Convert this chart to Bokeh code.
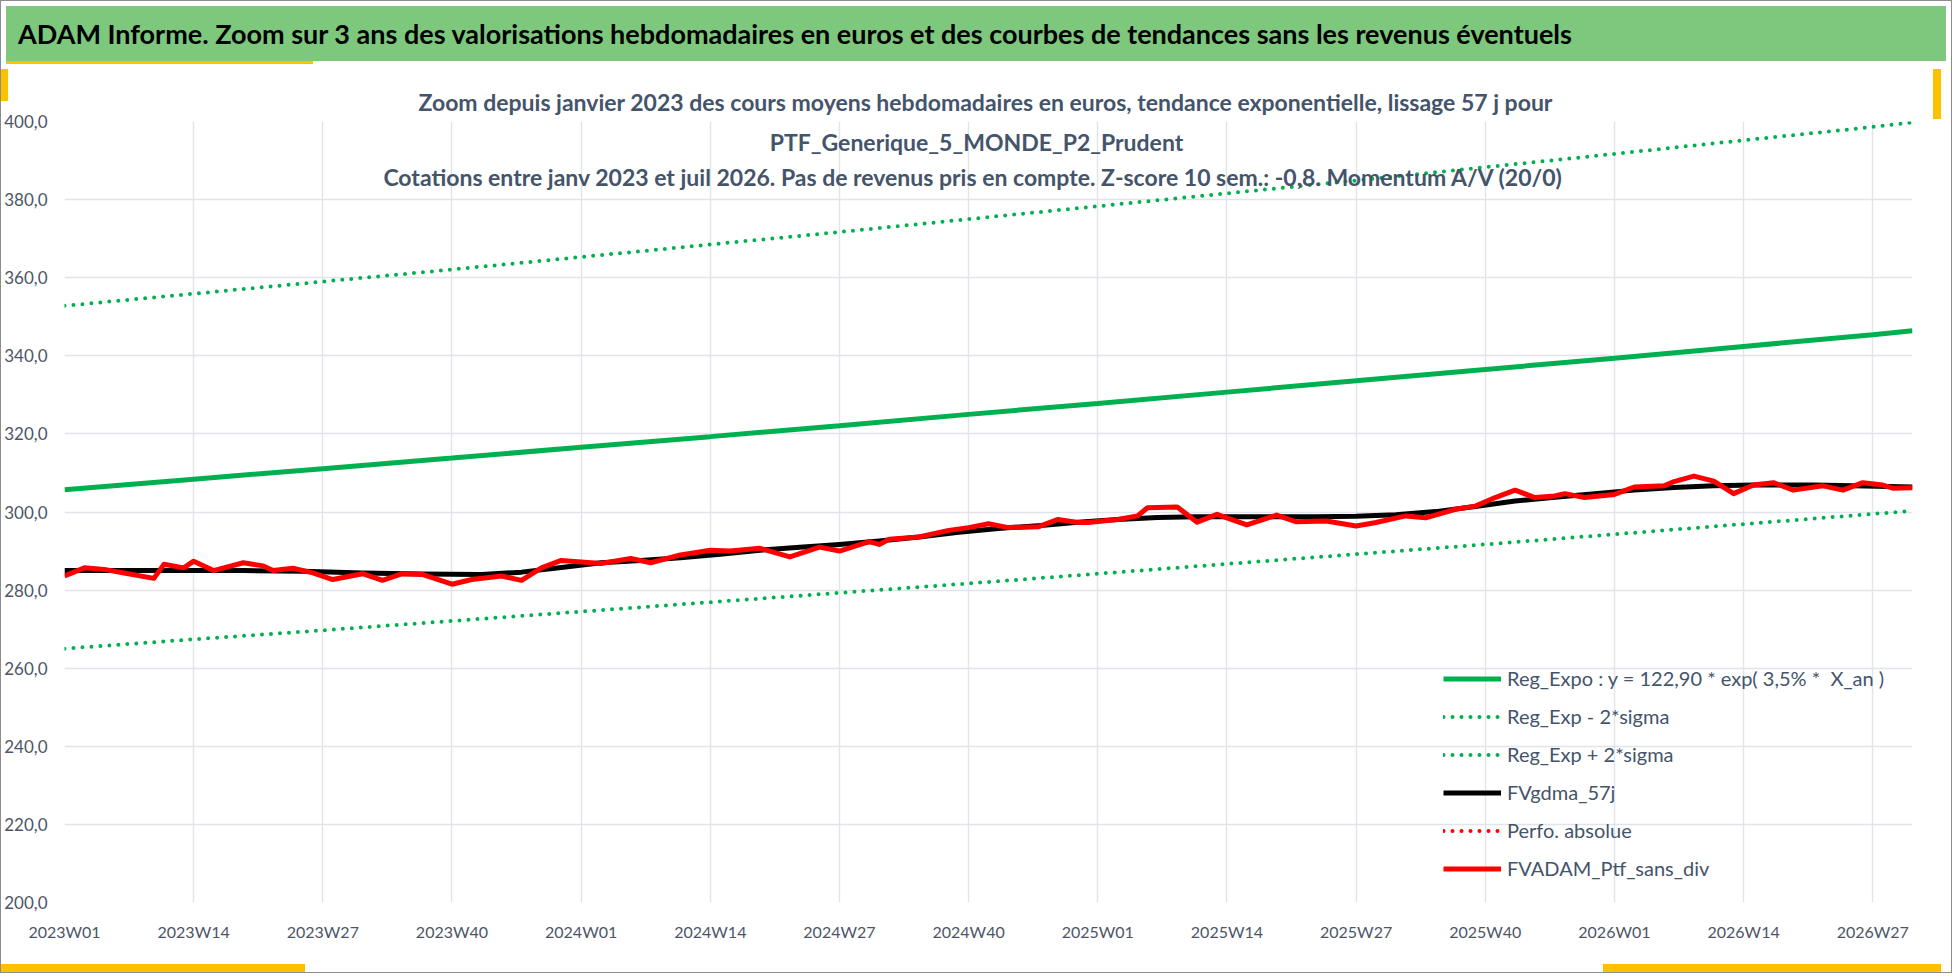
from bokeh.plotting import figure
from bokeh.layouts import column
from bokeh.models import (Range1d, FixedTicker, Legend, LegendItem, Label, Title, Div)
from bokeh.embed import file_html
from bokeh.resources import INLINE

# x axis = week index since 2023W01 (one category per week)
week_labels = ["2023W01", "2023W14", "2023W27", "2023W40", "2024W01", "2024W14",
               "2024W27", "2024W40", "2025W01", "2025W14", "2025W27", "2025W40",
               "2026W01", "2026W14", "2026W27"]
last_week = 186

# exponential regression and +/- 2 sigma bands, read at each label position
trend_weeks = [0, 13, 26, 39, 52, 65, 78, 91, 104, 117, 130, 143, 156, 169, 182, 186]
reg_expo = [305.7, 308.4, 311.1, 313.8, 316.6, 319.3, 322.1, 325.0, 327.8, 330.7,
            333.6, 336.5, 339.4, 342.4, 345.4, 346.4]
reg_plus = [352.8, 355.9, 359.0, 362.1, 365.3, 368.5, 371.7, 375.0, 378.3, 381.6,
            384.9, 388.3, 391.7, 395.2, 398.6, 399.8]
reg_minus = [265.0, 267.4, 269.7, 272.1, 274.5, 276.9, 279.3, 281.7, 284.2, 286.7,
             289.2, 291.7, 294.3, 296.9, 299.5, 300.3]

# 57 day moving average
gdma_weeks = [0, 6, 12, 18, 24, 30, 36, 42, 46, 50, 54, 58, 62, 66, 70, 74, 78, 82,
              86, 90, 94, 98, 102, 106, 110, 114, 120, 126, 130, 134, 138, 142, 146,
              150, 154, 158, 162, 166, 170, 176, 180, 186]
gdma = [285.0, 285.0, 285.0, 285.0, 284.8, 284.4, 284.1, 284.0, 284.6, 285.8, 287.0,
        287.6, 288.3, 289.2, 290.2, 291.0, 291.7, 292.6, 293.6, 294.8, 295.8, 296.5,
        297.4, 298.1, 298.6, 298.8, 298.8, 298.8, 298.9, 299.3, 300.1, 301.4, 302.8,
        303.8, 304.7, 305.6, 306.3, 306.7, 306.9, 306.9, 306.7, 306.4]

# weekly valuation of the portfolio (no income)
ptf_weeks = [0, 2, 4, 6, 9, 10, 12, 13, 15, 18, 20, 21, 23, 25, 27, 30, 32, 34, 36,
             39, 41, 44, 46, 48, 50, 54, 57, 59, 62, 65, 67, 70, 73, 76, 78, 81, 82,
             83, 86, 89, 91, 93, 95, 98, 100, 102, 103, 106, 108, 109, 112, 114, 116,
             119, 122, 124, 127, 130, 132, 135, 137, 140, 142, 144, 146, 148, 150,
             151, 153, 156, 158, 161, 162, 164, 166, 168, 170, 172, 174, 177, 179,
             181, 183, 184, 186]
ptf = [283.6, 285.7, 285.3, 284.4, 283.0, 286.6, 285.7, 287.4, 285.0, 287.0, 286.2,
       285.0, 285.6, 284.4, 282.7, 284.2, 282.5, 284.2, 284.0, 281.5, 282.7, 283.6,
       282.5, 285.7, 287.6, 286.8, 288.1, 287.0, 289.0, 290.2, 290.0, 290.7, 288.5,
       291.0, 290.0, 292.4, 291.7, 293.0, 293.6, 295.3, 296.0, 297.0, 296.0, 296.2,
       298.1, 297.3, 297.3, 298.1, 299.0, 301.1, 301.3, 297.4, 299.4, 296.7, 299.2,
       297.5, 297.7, 296.4, 297.3, 299.0, 298.5, 300.7, 301.5, 303.7, 305.6, 303.7,
       304.1, 304.7, 303.7, 304.5, 306.4, 306.7, 307.8, 309.2, 307.9, 304.7, 306.9,
       307.5, 305.6, 306.7, 305.6, 307.5, 306.9, 306.1, 306.2]

# "Perfo. absolue" is only present in the legend
perf_weeks = [0, 1]
perf = [float("nan"), float("nan")]

W = 1940
HEAD = 58
H = 963 - 2 - HEAD
FONT = "Lato"
GREEN = "#00b050"
TXT = "#44546a"
YEL = "#ffc000"

title_text = ("ADAM Informe. Zoom sur 3 ans des valorisations hebdomadaires en euros "
              "et des courbes de tendances sans les revenus éventuels")
head = Div(width=W, height=HEAD, text=(
    f'<div style="width:{W}px;height:{HEAD}px;box-sizing:border-box;padding-left:12px;'
    f'background:linear-gradient({YEL},{YEL}) 0 100% / 307px 3px no-repeat,'
    f'linear-gradient(#7dc87d,#7dc87d) 0 0 / 100% 55px no-repeat,#ffffff;'
    f'font-family:{FONT};font-weight:bold;font-size:27px;line-height:56px;'
    f'color:#000000;white-space:nowrap;overflow:hidden">{title_text}</div>'))

p = figure(width=W, height=H, x_range=Range1d(0, last_week), y_range=Range1d(200, 400),
           output_backend="svg", toolbar_location=None,
           min_border_left=62, min_border_right=29, min_border_top=52,
           min_border_bottom=70)
p.outline_line_color = None
p.background_fill_color = "white"
p.border_fill_alpha = 0
p.styles = {"background": (
    f"linear-gradient({YEL},{YEL}) 0 0 / 7px 32px no-repeat,"
    f"linear-gradient({YEL},{YEL}) 100% 0 / 8px 50px no-repeat,"
    f"linear-gradient({YEL},{YEL}) 0 100% / 304px 8px no-repeat,"
    f"linear-gradient({YEL},{YEL}) 100% 100% / 338px 8px no-repeat,#ffffff")}

# axes
tick_pos = [13 * k for k in range(len(week_labels))]
p.xaxis.ticker = FixedTicker(ticks=tick_pos)
p.xaxis.major_label_overrides = dict(zip(tick_pos, week_labels))
y_ticks = list(range(200, 401, 20))
p.yaxis.ticker = FixedTicker(ticks=y_ticks)
p.yaxis.major_label_overrides = {v: f"{v},0" for v in y_ticks}
for ax in (p.xaxis, p.yaxis):
    ax.axis_line_color = None
    ax.major_tick_line_color = None
    ax.minor_tick_line_color = None
    ax.major_label_text_font = FONT
    ax.major_label_text_font_size = "16px"
    ax.major_label_text_color = "#4d5566"
p.yaxis.major_label_text_font_size = "17px"
p.xaxis.major_label_standoff = 13
p.yaxis.major_label_standoff = 11
p.grid.grid_line_color = "#e1e4ea"
p.grid.grid_line_width = 1.4

# series
r_minus = p.line(trend_weeks, reg_minus, line_color=GREEN, line_width=4,
                 line_dash="0 9", line_cap="round")
r_plus = p.line(trend_weeks, reg_plus, line_color=GREEN, line_width=4,
                line_dash="0 9", line_cap="round")
r_expo = p.line(trend_weeks, reg_expo, line_color=GREEN, line_width=5)
r_gdma = p.line(gdma_weeks, gdma, line_color="black", line_width=5, line_join="round")
r_perf = p.line(perf_weeks, perf, line_color="red", line_width=4, line_dash="0 9",
                line_cap="round")
r_ptf = p.line(ptf_weeks, ptf, line_color="red", line_width=5, line_join="round")

legend = Legend(items=[
    LegendItem(label="Reg_Expo : y = 122,90 * exp( 3,5% *  X_an )", renderers=[r_expo]),
    LegendItem(label="Reg_Exp - 2*sigma", renderers=[r_minus]),
    LegendItem(label="Reg_Exp + 2*sigma", renderers=[r_plus]),
    LegendItem(label="FVgdma_57j", renderers=[r_gdma]),
    LegendItem(label="Perfo. absolue", renderers=[r_perf]),
    LegendItem(label="FVADAM_Ptf_sans_div", renderers=[r_ptf]),
], location=(1379, 22), border_line_color=None, background_fill_alpha=0,
    padding=0, margin=0, spacing=14, glyph_width=58, glyph_height=23,
    label_height=23, label_standoff=6, label_text_font=FONT,
    label_text_font_size="20px", label_text_color=TXT)
p.add_layout(legend)

# chart title: first line above the frame, the others overlap the plot area
sub_font = dict(text_font=FONT, text_font_size="23px", text_font_style="bold",
                text_color=TXT)
p.add_layout(Title(text="Zoom depuis janvier 2023 des cours moyens hebdomadaires  en "
                        "euros, tendance exponentielle, lissage 57 j pour",
                   align="center", standoff=11, **sub_font), "above")
subtitles = [
    "PTF_Generique_5_MONDE_P2_Prudent",
    "Cotations  entre janv 2023 et juil 2026. Pas de revenus pris en compte. "
    "Z-score 10 sem.: -0,8. Momentum A/V (20/0)",
]
for txt, yy in zip(subtitles, [72, 107]):
    p.add_layout(Label(x=975, y=yy, x_units="canvas", y_units="canvas", text=txt,
                       text_align="center", text_baseline="middle", **sub_font))

page = column(head, p, styles={"border": "1px solid #8c8c8c"})
open("out.html", "w").write(file_html(page, INLINE))
